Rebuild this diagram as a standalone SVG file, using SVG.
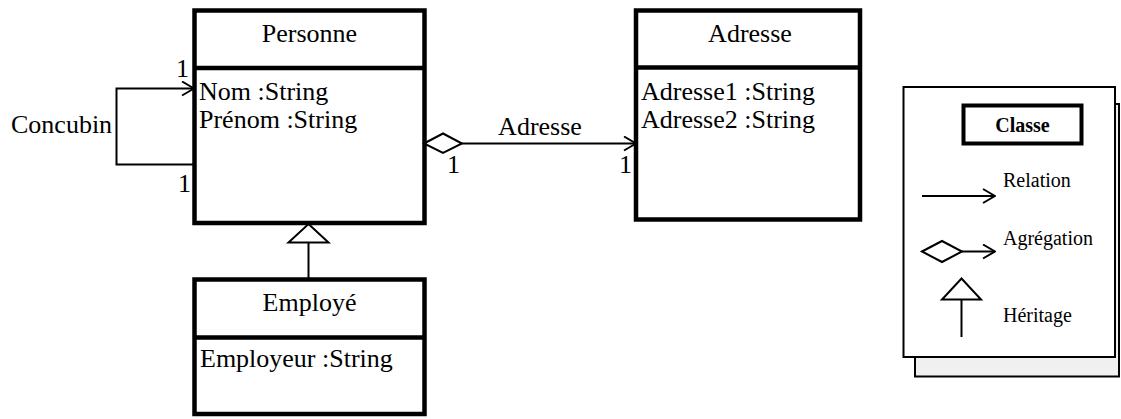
<svg xmlns="http://www.w3.org/2000/svg" width="1121" height="419" viewBox="0 0 1121 419">
<style>
.box{fill:#fff;stroke:#000;stroke-width:4.5}
.div{stroke:#000;stroke-width:4.5}
.ln{fill:none;stroke:#000;stroke-width:2}
.t{font-family:"Liberation Serif","Times New Roman",serif;font-size:26px;fill:#000}
.tc{text-anchor:middle}
.lg{font-family:"Liberation Serif","Times New Roman",serif;font-size:20px;fill:#000}
</style>
<defs>
<marker id="open" viewBox="0 0 14 16" refX="13" refY="8" markerWidth="14" markerHeight="16" markerUnits="userSpaceOnUse" orient="auto">
<path d="M1,1 L13,8 L1,15" fill="none" stroke="#000" stroke-width="2"/>
</marker>
</defs>
<rect width="1121" height="419" fill="#fff"/>

<g id="personne">
<rect class="box" x="194.5" y="10.5" width="230" height="212.5"/>
<line class="div" x1="194.5" y1="68" x2="424.5" y2="68"/>
<text class="t tc" x="309.5" y="42">Personne</text>
<text class="t" x="199" y="100">Nom :String</text>
<text class="t" x="199" y="128">Prénom :String</text>
</g>

<g id="adresse">
<rect class="box" x="636" y="10.5" width="224" height="209"/>
<line class="div" x1="636" y1="67.5" x2="860" y2="67.5"/>
<text class="t tc" x="750" y="42">Adresse</text>
<text class="t" x="641" y="100">Adresse1 :String</text>
<text class="t" x="641" y="128">Adresse2 :String</text>
</g>

<g id="employe">
<rect class="box" x="194.5" y="279.5" width="230" height="134.5"/>
<line class="div" x1="194.5" y1="337.5" x2="424.5" y2="337.5"/>
<text class="t tc" x="309.5" y="311">Employé</text>
<text class="t" x="200" y="367">Employeur :String</text>
</g>

<g id="connectors">
<path class="ln" d="M194,164.5 H116.5 V88.5 H194" marker-end="url(#open)"/>
<text class="t" x="11" y="133">Concubin</text>
<text class="t" x="176" y="77">1</text>
<text class="t" x="178" y="192">1</text>

<path class="ln" d="M424,143.5 L443,133.5 L462,143.5 L443,153 Z"/>
<line class="ln" x1="462" y1="143.5" x2="636" y2="143.5" marker-end="url(#open)"/>
<text class="t tc" x="540" y="135">Adresse</text>
<text class="t" x="447" y="173">1</text>
<text class="t" x="619" y="173">1</text>

<path class="ln" d="M308.5,224 L328.5,242.5 L288.5,242.5 Z" fill="#fff"/>
<line class="ln" x1="308.5" y1="242.5" x2="308.5" y2="279"/>
</g>

<g id="legende">
<rect x="915" y="104" width="204" height="272.5" fill="#f0f0f0" stroke="#000" stroke-width="2"/>
<rect x="903.5" y="87" width="211.5" height="270" fill="#fff" stroke="#000" stroke-width="2"/>
<rect x="963.5" y="105.5" width="118" height="38" fill="#fff" stroke="#000" stroke-width="4"/>
<text class="lg tc" x="1022.5" y="131.5" font-weight="bold">Classe</text>

<line class="ln" x1="922" y1="196" x2="995" y2="196" marker-end="url(#open)"/>
<text class="lg" x="1003" y="187">Relation</text>

<path class="ln" d="M922,251.5 L942,241 L962,251.5 L942,262 Z"/>
<line class="ln" x1="962" y1="251.5" x2="995" y2="251.5" marker-end="url(#open)"/>
<text class="lg" x="1003" y="245">Agrégation</text>

<path class="ln" d="M961.5,278.5 L981,299.5 L942,299.5 Z"/>
<line class="ln" x1="961.5" y1="299.5" x2="961.5" y2="337"/>
<text class="lg" x="1003" y="322">Héritage</text>
</g>
</svg>
